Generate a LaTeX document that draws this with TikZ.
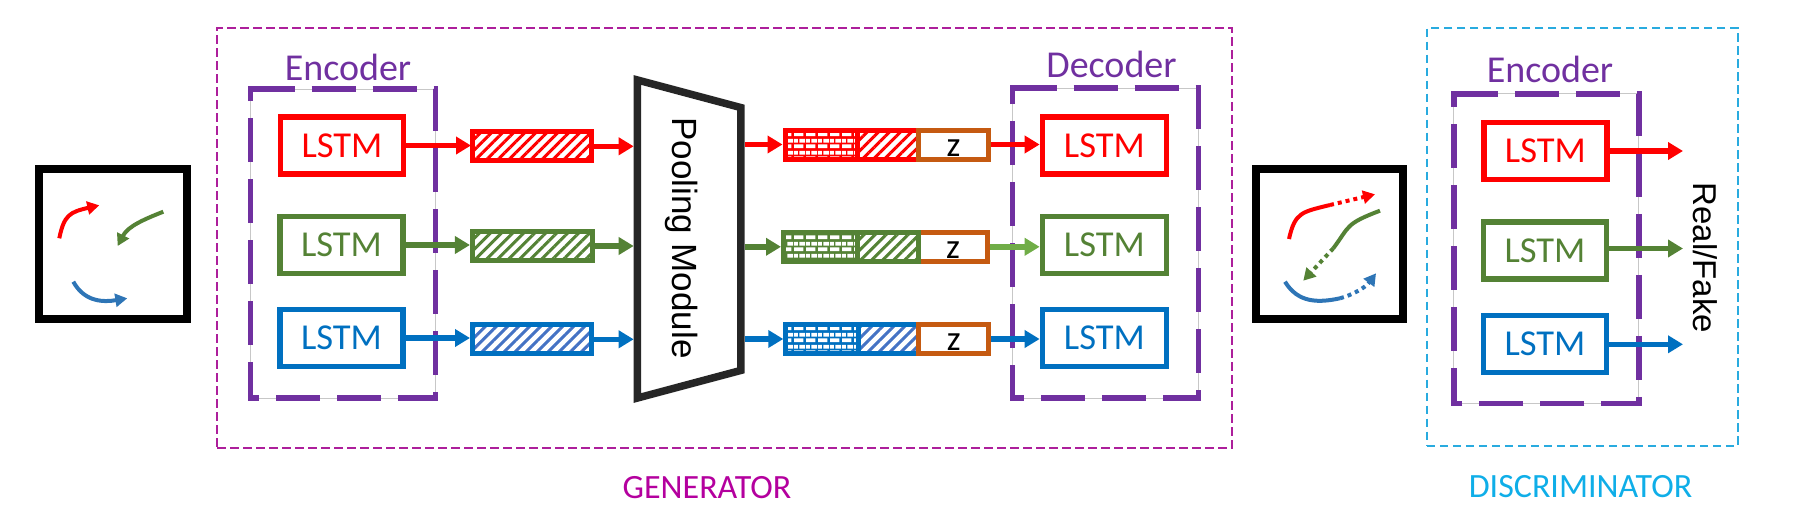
\documentclass[tikz,border=0pt]{standalone}
\usepackage{fontspec}
\setmainfont{Carlito}
\newfontfamily\arialfont{Liberation Sans}
\usetikzlibrary{arrows.meta,patterns,patterns.meta,positioning,shapes.geometric}
\definecolor{lstmred}{HTML}{FF0000}
\definecolor{lstmgreen}{HTML}{548235}
\definecolor{lstmblue}{HTML}{0070C0}
\definecolor{stripeblue}{HTML}{4472C4}
\definecolor{lightgreen}{HTML}{70AD47}
\definecolor{zorange}{HTML}{C55A11}
\definecolor{encpurple}{HTML}{7030A0}
\definecolor{genmagenta}{HTML}{B4009E}
\definecolor{gendash}{HTML}{AD1F9B}
\definecolor{discdash}{HTML}{29ABDF}
\definecolor{disccyan}{HTML}{0FAEE8}
\definecolor{poolgray}{HTML}{262626}
\definecolor{trackblue}{HTML}{2E75B6}
% white bricks, filled over the colour of the bar
\pgfdeclarepatternformonly{brickwall}{\pgfqpoint{0pt}{0pt}}{\pgfqpoint{11.5pt}{11.4pt}}{\pgfqpoint{11.5pt}{11.4pt}}
{
  \pgfpathrectangle{\pgfqpoint{0pt}{0.8pt}}{\pgfqpoint{9.6pt}{4pt}}
  \pgfpathrectangle{\pgfqpoint{0pt}{6.5pt}}{\pgfqpoint{3.9pt}{4pt}}
  \pgfpathrectangle{\pgfqpoint{5.7pt}{6.5pt}}{\pgfqpoint{5.8pt}{4pt}}
  \pgfusepath{fill}
}
\tikzset
{
  lstmbox/.style  = {draw=#1, text=#1, line width=5.5pt, minimum width=123pt, minimum height=57pt, inner sep=0pt, font=\fontsize{36.5}{40}\selectfont},
  hatchbar/.style = {draw=#1, line width=5pt, minimum height=29pt, inner sep=0pt, pattern={Lines[angle=45,distance=7.8pt,line width=3pt]}, pattern color=#1},
  brickbar/.style = {draw=#1, line width=5pt, minimum height=29pt, inner sep=0pt, preaction={fill=#1}, pattern=brickwall, pattern color=white},
  zbox/.style     = {draw=zorange, fill=white, line width=5pt, minimum width=70pt, minimum height=29pt, inner sep=0pt, text height=23pt, text depth=0pt, font=\fontsize{35}{37}\selectfont},
  scenebox/.style = {draw=black, line width=8pt, inner sep=0pt},
  frame/.style    = {draw=black!22, line width=1pt, inner sep=0pt, outer sep=0pt},
  purpledash/.style = {draw=encpurple, line width=5.5pt, dash pattern=on 44pt off 17pt},
  thindash/.style = {line width=2pt, inner sep=0pt, dash pattern=on 8.5pt off 4.5pt},
  flow/.style     = {line width=5.5pt, -{Triangle[length=15pt,width=17pt]}},
  track/.style    = {line width=4pt, -{Triangle[length=12pt,width=13pt]}},
  trackline/.style = {line width=4pt},
  dotted track/.style = {track, dash pattern=on 4pt off 4pt},
  enclabel/.style = {text=encpurple, anchor=base, inner sep=0pt, font=\fontsize{38}{40}\selectfont},
  partlabel/.style = {anchor=base, inner sep=0pt, font=\fontsize{34}{36}\selectfont},
  sidelabel/.style = {rotate=-90, anchor=base, inner sep=0pt}
}
\begin{document}
\begin{tikzpicture}[x=1pt,y=-1pt]
  \useasboundingbox (0,0) rectangle (1800,514);
  % outer dashed parts
  \node [thindash, draw=gendash, minimum width=1015pt, minimum height=419.7pt] (generator) at (724.5,237.9) {};
  \node [thindash, draw=discdash, minimum width=310.7pt, minimum height=418pt] (discriminator) at (1582.3,237) {};
  \node [partlabel, text=genmagenta] (genlabel) at (707,498) {GENERATOR};
  \node [partlabel, text=disccyan] (disclabel) at (1580.5,497.5) {DISCRIMINATOR};

  % encoder and decoder frames
  \node [frame, minimum width=185pt, minimum height=309pt] (encG) at (343,243.5) {};
  \node [frame, minimum width=186pt, minimum height=310pt] (decG) at (1105.5,243) {};
  \node [frame, minimum width=185pt, minimum height=309.5pt] (encD) at (1546.4,248.7) {};
  \foreach \frm in {encG,decG,encD}
    \draw [purpledash] (\frm.north west) -- (\frm.north east) -- (\frm.south east) -- (\frm.south west) -- (\frm.north west) -- ++(6,0);
  \node [enclabel] (encGlabel) at (348,80) {Encoder};
  \node [enclabel] (decGlabel) at (1111.5,77.3) {Decoder};
  \node [enclabel] (encDlabel) at (1550,82.7) {Encoder};

  % scenes
  \node [scenebox, minimum width=148pt, minimum height=150pt] (sceneIn) at (113,244) {};
  \node [scenebox, minimum width=146.5pt, minimum height=150pt] (sceneOut) at (1329.7,244) {};
  \draw [track, lstmred] (59.3,238.3) .. controls (64,215) and (70,212) .. (99.3,205.3);
  \draw [track, lstmgreen] (163.3,211.7) .. controls (145,219) and (128,226) .. (117.7,246);
  \draw [track, trackblue] (73.3,281.7) .. controls (85,303) and (105,302) .. (127.3,298.3);
  \draw [trackline, lstmred] (1289,239) .. controls (1295,212) and (1302,212) .. (1330,205);
  \draw [dotted track, lstmred] (1330,205) -- (1375,194.3);
  \draw [trackline, lstmgreen] (1380,210.7) .. controls (1345,224) and (1350,226) .. (1333.3,248.3);
  \draw [dotted track, lstmgreen] (1333.3,248.3) -- (1303.3,280.7);
  \draw [trackline, trackblue] (1285,281.7) .. controls (1298,303) and (1318,303) .. (1340,298.3);
  \draw [dotted track, trackblue] (1340,298.3) .. controls (1352,295) and (1365,288) .. (1376,273.3);

  % generator encoder
  \node [lstmbox=lstmred] (lstmR) at (342,145.5) {LSTM};
  \node [lstmbox=lstmgreen] (lstmG) at (341.5,245) {LSTM};
  \node [lstmbox=lstmblue] (lstmB) at (341.5,338) {LSTM};
  \node [hatchbar=lstmred, minimum width=119pt] (hidR) at (532,146.3) {};
  \node [hatchbar=lstmgreen, minimum width=120.5pt] (hidG) at (532.7,246) {};
  \node [hatchbar=lstmblue, pattern color=stripeblue, minimum width=119pt] (hidB) at (532,339.3) {};

  % pooling
  \node [trapezium, trapezium stretches=true, draw=poolgray, line width=7.5pt, shape border rotate=270, trapezium angle=84, minimum width=318pt, minimum height=103.5pt, inner sep=1pt] (pool) at (689.2,239) {};
  \node [sidelabel, font=\arialfont\fontsize{35}{38}\selectfont] (poollabel) at (672.7,238) {Pooling Module};

  % generator decoder, three part bars
  \node [brickbar=lstmred, minimum width=72.5pt, anchor=west] (brickR) at (782.5,144.5) {};
  \node [hatchbar=lstmred, minimum width=61pt, right=-5pt of brickR] (noiseR) {};
  \node [zbox, right=-5pt of noiseR] (zR) {z};
  \node [brickbar=lstmgreen, minimum width=74pt, anchor=west] (brickG) at (781,246.8) {};
  \node [zbox, minimum width=69pt, right=56pt of brickG] (zG) {z};
  \node [hatchbar=lstmgreen, minimum width=61pt, right=-5pt of brickG] (noiseG) {};
  \node [brickbar=lstmblue, minimum width=73pt, anchor=west] (brickB) at (783.3,339) {};
  \node [hatchbar=lstmblue, pattern color=stripeblue, minimum width=60pt, right=-5pt of brickB] (noiseB) {};
  \node [zbox, right=-5pt of noiseB] (zB) {z};
  \node [lstmbox=lstmred, minimum width=124pt] (outR) at (1104.4,145.5) {LSTM};
  \node [lstmbox=lstmgreen, minimum width=124pt] (outG) at (1104.4,245) {LSTM};
  \node [lstmbox=lstmblue, minimum width=124pt] (outB) at (1104.4,338) {LSTM};

  % discriminator
  \node [lstmbox=lstmred] (discR) at (1545.4,151) {LSTM};
  \node [lstmbox=lstmgreen] (discG) at (1545,250.7) {LSTM};
  \node [lstmbox=lstmblue] (discB) at (1545,343.8) {LSTM};
  \coordinate (endR) at (1683,151);
  \coordinate (endG) at (1683,248.5);
  \coordinate (endB) at (1683,344.3);
  \node [sidelabel, font=\arialfont\fontsize{33}{36}\selectfont] (reallabel) at (1693.7,258) {Real/Fake};

  % connectors
  \foreach \a/\b/\c in {lstmR/hidR/lstmred,lstmG/hidG/lstmgreen,lstmB/hidB/lstmblue}
    \draw [flow, \c] (\a.east) -- (\a.east -| \b.west);
  \foreach \a/\c in {hidR/lstmred,hidG/lstmgreen,hidB/lstmblue}
    \draw [flow, \c] (\a.east) -- (\a.east -| pool.west);
  \foreach \b/\c in {brickR/lstmred,brickG/lstmgreen,brickB/lstmblue}
    \draw [flow, \c] (\b.west -| pool.east) -- (\b.west);
  \draw [flow, lstmred] (zR.east) -- (zR.east -| outR.west);
  \draw [flow, lightgreen] (zG.east) -- (zG.east -| outG.west);
  \draw [flow, lstmblue] (zB.east) -- (zB.east -| outB.west);
  \draw [flow, lstmred] (discR.east) -- (endR);
  \draw [flow, lstmgreen] (discG.east |- endG) -- (endG);
  \draw [flow, lstmblue] (discB.east |- endB) -- (endB);
\end{tikzpicture}
\end{document}
